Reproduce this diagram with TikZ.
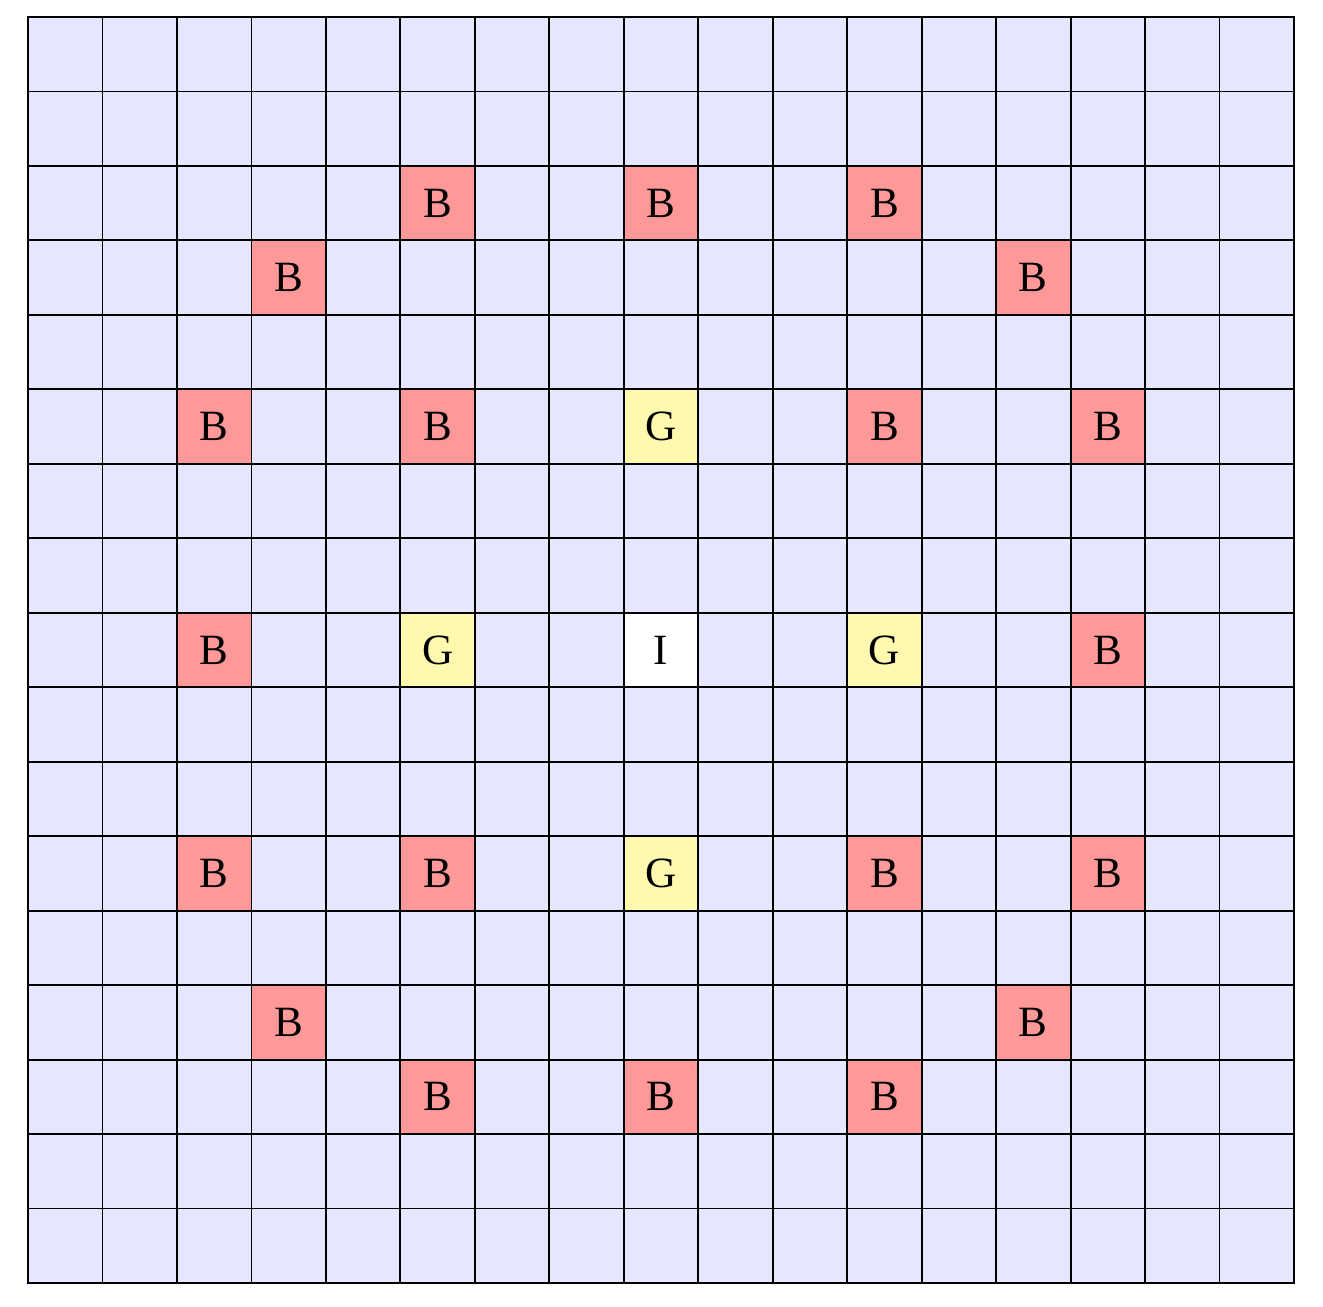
\documentclass[tikz,border=0pt]{standalone}
\usepackage{fontspec}
\setmainfont{Liberation Serif}
\usetikzlibrary{positioning}
\definecolor{gridbg}{RGB}{230,230,255}
\definecolor{bcol}{RGB}{255,153,153}
\definecolor{gcol}{RGB}{255,248,175}
\tikzset{
  cell/.style = {rectangle, draw=black, line width=0.7pt, fill=gridbg, minimum size=1cm, inner sep=0pt, font=\fontsize{16.5}{18}\selectfont},
  bcell/.style = {cell, fill=bcol},
  gcell/.style = {cell, fill=gcol},
  icell/.style = {cell, fill=white}
}

\begin{document}
\begin{tikzpicture}
\useasboundingbox (-0.376,-0.309) rectangle (17.389,17.228);

% background grid
\foreach \x in {0,...,16}
  \foreach \y in {0,...,16}
    \node[cell] (c\x-\y) at (\x+0.5,16.5-\y) {};

% B cells
\node[bcell] (b1) at (c5-2) {B};
\node[bcell] (b2) at (c8-2) {B};
\node[bcell] (b3) at (c11-2) {B};
\node[bcell] (b4) at (c3-3) {B};
\node[bcell] (b5) at (c13-3) {B};
\node[bcell] (b6) at (c2-5) {B};
\node[bcell] (b7) at (c5-5) {B};
\node[bcell] (b8) at (c11-5) {B};
\node[bcell] (b9) at (c14-5) {B};
\node[bcell] (b10) at (c2-8) {B};
\node[bcell] (b11) at (c14-8) {B};
\node[bcell] (b12) at (c2-11) {B};
\node[bcell] (b13) at (c5-11) {B};
\node[bcell] (b14) at (c11-11) {B};
\node[bcell] (b15) at (c14-11) {B};
\node[bcell] (b16) at (c3-13) {B};
\node[bcell] (b17) at (c13-13) {B};
\node[bcell] (b18) at (c5-14) {B};
\node[bcell] (b19) at (c8-14) {B};
\node[bcell] (b20) at (c11-14) {B};

% G cells
\node[gcell] (g1) at (c8-5) {G};
\node[gcell] (g2) at (c5-8) {G};
\node[gcell] (g3) at (c11-8) {G};
\node[gcell] (g4) at (c8-11) {G};

% I cell
\node[icell] (i1) at (c8-8) {I};

\end{tikzpicture}
\end{document}
